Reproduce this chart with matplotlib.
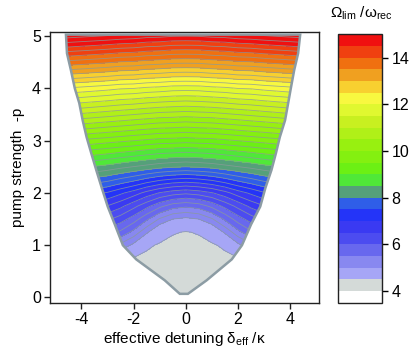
import numpy as np
import matplotlib
matplotlib.use("Agg")
import matplotlib.pyplot as plt
from matplotlib.path import Path
from matplotlib.patches import PathPatch
from matplotlib.colors import ListedColormap, BoundaryNorm
from matplotlib.cm import ScalarMappable

plt.rcParams["font.family"] = ["Liberation Sans", "DejaVu Sans"]
plt.rcParams["font.size"] = 11

# grid of readings: pump strength rows, |detuning| columns
pump = [0.0, 0.25, 0.5, 0.75, 1.0, 1.25, 1.5, 1.75, 2.0, 2.5, 3.0, 3.5, 4.0, 4.5, 5.0, 5.2]
detuning = [0.0, 0.5, 1.0, 1.5, 2.0, 2.5, 3.0, 4.0, 5.0]
omega = [
    [4.00, 4.02, 4.08, 4.14, 4.20, 4.24, 4.26, 4.28, 4.28],
    [4.10, 4.12, 4.18, 4.24, 4.30, 4.33, 4.35, 4.36, 4.36],
    [4.20, 4.22, 4.28, 4.33, 4.38, 4.42, 4.44, 4.46, 4.46],
    [4.30, 4.32, 4.36, 4.42, 4.48, 4.66, 4.75, 4.84, 4.84],
    [4.38, 4.40, 4.46, 4.56, 4.93, 5.18, 5.30, 5.42, 5.42],
    [4.48, 4.53, 4.68, 5.05, 5.42, 5.70, 5.85, 6.00, 6.15],
    [4.93, 5.00, 5.22, 5.55, 5.88, 6.12, 6.30, 6.47, 6.64],
    [5.55, 5.62, 5.82, 6.08, 6.33, 6.57, 6.74, 6.98, 7.15],
    [6.30, 6.36, 6.48, 6.66, 6.88, 7.05, 7.22, 7.42, 7.59],
    [8.00, 8.03, 8.08, 8.16, 8.24, 8.32, 8.41, 8.54, 8.68],
    [9.35, 9.38, 9.40, 9.45, 9.50, 9.55, 9.60, 9.70, 9.80],
    [10.60, 10.63, 10.65, 10.70, 10.75, 10.80, 10.85, 10.95, 11.05],
    [11.85, 11.86, 11.91, 11.94, 12.00, 12.02, 12.08, 12.17, 12.26],
    [13.30, 13.31, 13.36, 13.39, 13.45, 13.47, 13.53, 13.62, 13.71],
    [14.75, 14.76, 14.81, 14.83, 14.89, 14.92, 14.97, 15.05, 15.13],
    [15.30, 15.31, 15.35, 15.38, 15.44, 15.47, 15.52, 15.60, 15.70],
]

# edge of the stable region
edge_p = [0.07, 0.33, 0.73, 1.0, 1.4, 1.74, 2.1, 2.44, 2.76, 3.07, 3.39, 3.72, 4.0, 4.35, 4.67, 5.03]
edge_left = [-0.23, -0.81, -1.9, -2.41, -2.72, -2.99, -3.22, -3.43, -3.62, -3.8, -3.95, -4.08, -4.25, -4.4, -4.55, -4.59]
edge_right = [0.08, 0.8, 1.76, 2.15, 2.5, 2.85, 3.05, 3.28, 3.45, 3.6, 3.8, 3.92, 4.02, 4.15, 4.3, 4.38]

levels = [3.7, 4.0, 4.5, 5.0, 5.5, 6.0, 6.5, 7.0, 7.5, 8.0, 8.5, 9.0, 9.5,
          10.0, 10.5, 11.0, 11.5, 12.0, 12.5, 13.0, 13.5, 14.0, 14.5, 15.1]
band_colors = [
    "#ffffff", "#d4dad8",
    "#a6a6f6", "#8888f0", "#6868ee", "#4c4cf0", "#3a3af2", "#2434f8", "#2f5ee8",
    "#55a07a",
    "#50e838", "#6cf014", "#84f010", "#98f010", "#b0f018", "#c8f020", "#e0f830",
    "#f8f840", "#f8d030", "#f0a020", "#f07010", "#f04010", "#f01010",
]
line_levels = [4.5] + list(np.arange(5.0, 15.01, 0.25))

x_cols = np.array(detuning)
xs = np.concatenate([-x_cols[:0:-1], x_cols])
vals = np.array(omega)
vals = np.concatenate([vals[:, :0:-1], vals], axis=1)

fig = plt.figure(figsize=(4.13, 3.57), dpi=100)
ax = fig.add_axes([0.1211, 0.1513, 0.6513, 0.7591])

verts = list(zip(edge_left, edge_p)) + list(zip(edge_right[::-1], edge_p[::-1]))
verts.append(verts[0])
region = PathPatch(Path(verts, closed=True), facecolor="none",
                   edgecolor="#8c9ca4", lw=1.8, zorder=3)
ax.add_patch(region)

cs = ax.contourf(xs, pump, vals, levels=levels, colors=band_colors + [band_colors[-1]],
                 extend="max")
cs.set_clip_path(region)
cl = ax.contour(xs, pump, vals, levels=line_levels, colors="#8a9a9a",
                linewidths=0.6, alpha=0.8)
cl.set_clip_path(region)

ax.set_xlim(-5.2, 5.1)
ax.set_ylim(-0.105, 5.08)
ax.set_xticks([-4, -2, 0, 2, 4])
ax.set_yticks([0, 1, 2, 3, 4, 5])
ax.set_xticklabels(["-4", "-2", "0", "2", "4"])
ax.set_xlabel(r"effective detuning $\mathregular{δ_{eff}}$ /κ", labelpad=2)
ax.set_ylabel("pump strength  -p", labelpad=5)
ax.tick_params(direction="out", length=4, width=1, labelsize=11.5, color="#222222", pad=2.5)
for s in ax.spines.values():
    s.set_linewidth(1.0)
    s.set_color("#222222")

cax = fig.add_axes([0.8177, 0.1521, 0.108, 0.7518])
sm = ScalarMappable(norm=BoundaryNorm(levels, len(band_colors)),
                    cmap=ListedColormap(band_colors))
cb = fig.colorbar(sm, cax=cax)
cb.set_ticks([4, 6, 8, 10, 12, 14])
cb.ax.minorticks_off()
cb.ax.tick_params(direction="out", length=4, width=1, labelsize=11.5, pad=2.5)
cb.outline.set_linewidth(1.0)
cb.outline.set_edgecolor("#222222")

fig.text(0.874, 0.962, r"$\mathregular{Ω_{lim}}$ /$\mathregular{ω_{rec}}$",
         ha="center", va="center", fontsize=11)

fig.savefig("out.png", dpi=100)
